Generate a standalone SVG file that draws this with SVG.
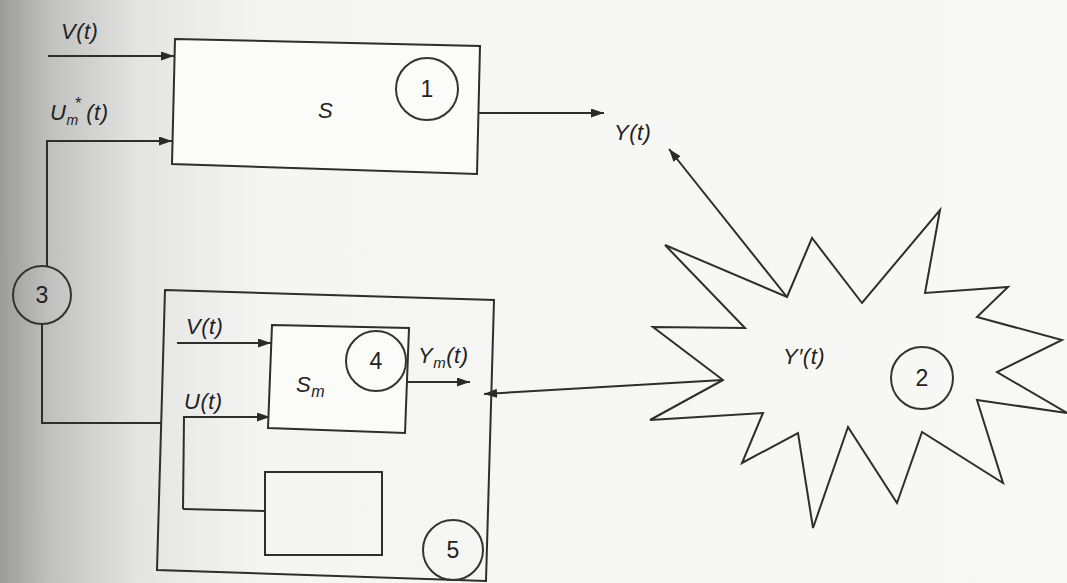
<svg xmlns="http://www.w3.org/2000/svg" width="1067" height="583" viewBox="0 0 1067 583">
<defs>
<linearGradient id="bg" x1="0" y1="0" x2="1" y2="0">
<stop offset="0" stop-color="#9c9c9a"/>
<stop offset="0.05" stop-color="#c2c2c0"/>
<stop offset="0.13" stop-color="#e4e4e2"/>
<stop offset="0.25" stop-color="#f5f5f3"/>
<stop offset="1" stop-color="#f8f8f6"/>
</linearGradient>
<marker id="ah" markerUnits="userSpaceOnUse" markerWidth="14" markerHeight="10" refX="13" refY="4.5" orient="auto">
<path d="M0,0 L13,4.5 L0,9 z" fill="#2a2a2a"/>
</marker>
<style>
.ln{fill:none;stroke:#2e2e2e;stroke-width:2}
.bx{fill:#fbfbf9;stroke:#2e2e2e;stroke-width:2}
.bx2{fill:none;stroke:#2e2e2e;stroke-width:2}
.cr{fill:none;stroke:#333;stroke-width:2}
.lb{font-family:"Liberation Sans",Arial,sans-serif;font-style:italic;fill:#222;font-size:22px;letter-spacing:0.5px}
.nm{font-family:"Liberation Sans",Arial,sans-serif;fill:#222;font-size:23px;text-anchor:middle}
</style>
</defs>
<rect x="0" y="0" width="1067" height="583" fill="url(#bg)"/>

<g id="connectors">
<line class="ln" x1="48" y1="56" x2="174" y2="56" marker-end="url(#ah)"/>
<polyline class="ln" points="47,266 47,141 172,141" marker-end="url(#ah)"/>
<polyline class="ln" points="42,324 42,423 162,423"/>
<line class="ln" x1="478" y1="113" x2="604" y2="113" marker-end="url(#ah)"/>
<line class="ln" x1="787" y1="297" x2="669" y2="149" marker-end="url(#ah)"/>
<line class="ln" x1="723" y1="380" x2="484" y2="394" marker-end="url(#ah)"/>
<line class="ln" x1="177" y1="343" x2="271" y2="343" marker-end="url(#ah)"/>
<polyline class="ln" points="183,509 184,417 270,417" marker-end="url(#ah)"/>
<line class="ln" x1="183" y1="509" x2="265" y2="511"/>
<line class="ln" x1="407" y1="382" x2="470" y2="382" marker-end="url(#ah)"/>
</g>

<g id="node1">
<path class="bx" d="M175,39 L480,46 L477,174 L172,164 Z"/>
<text class="lb" x="318" y="118" font-size="27">S</text>
<circle class="cr" cx="427" cy="89" r="31"/>
<text class="nm" x="427" y="97">1</text>
</g>

<g id="node2">
<path class="bx2" fill="#fbfbf9" d="M787,297 L812,238 L862,303 L940,210 L925,293 L1008,287 L977,317 L1062,340 L997,372 L1067,413 L977,400 L1003,483 L922,432 L897,503 L848,427 L813,528 L798,433 L742,463 L763,413 L650,420 L723,380 L653,327 L745,328 L665,245 Z"/>
<text class="lb" x="783" y="364" font-size="21" font-style="normal">Y′(t)</text>
<circle class="cr" cx="922" cy="378" r="31"/>
<text class="nm" x="922" y="386">2</text>
</g>

<g id="node3">
<circle class="cr" cx="42" cy="295" r="29"/>
<text class="nm" x="42" y="303">3</text>
</g>

<g id="node5">
<path class="bx2" d="M165,290 L494,300 L486,581 L157,570 Z"/>
<circle class="cr" cx="453" cy="550" r="30"/>
<text class="nm" x="453" y="558">5</text>
</g>

<g id="node4">
<path class="bx" d="M272,325 L409,328 L405,433 L268,428 Z"/>
<text class="lb" x="296" y="392" font-size="27">S<tspan font-size="16" dy="5">m</tspan></text>
<circle class="cr" cx="376" cy="361" r="30"/>
<text class="nm" x="376" y="369">4</text>
</g>

<g id="node6">
<rect class="bx2" x="265" y="472" width="117" height="83"/>
</g>

<g id="labels">
<text class="lb" x="61" y="39">V(t)</text>
<text class="lb" x="50" y="120">U<tspan font-size="14" dy="5">m</tspan><tspan font-size="16" dy="-16" dx="-4">*</tspan><tspan dy="11" dx="5">(t)</tspan></text>
<text class="lb" x="614" y="140" font-size="24">Y(t)</text>
<text class="lb" x="186" y="334">V(t)</text>
<text class="lb" x="184" y="409">U(t)</text>
<text class="lb" x="418" y="363">Y<tspan font-size="15" dy="5">m</tspan><tspan dy="-5">(t)</tspan></text>
</g>
</svg>
